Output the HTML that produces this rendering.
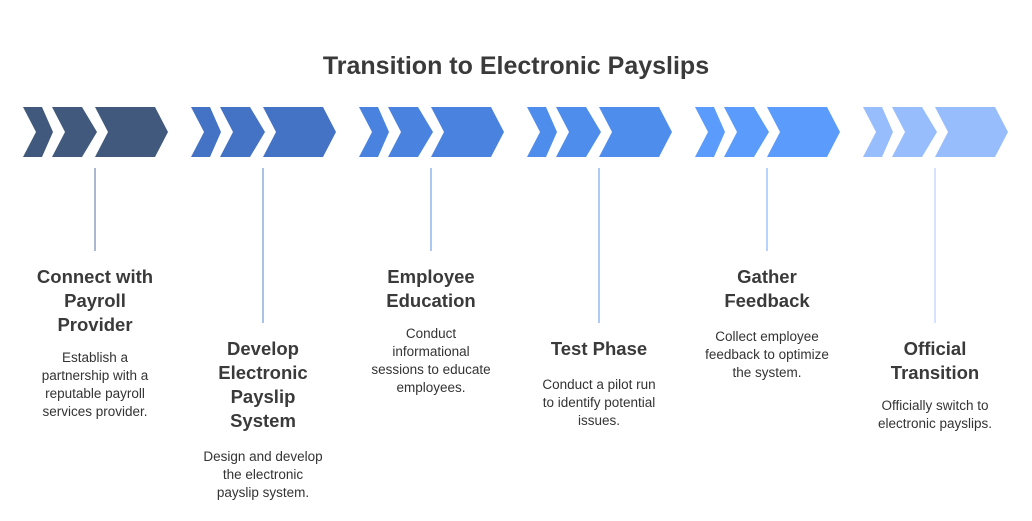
<!DOCTYPE html>
<html><head><meta charset="utf-8"><style>
body{margin:0;background:#fff;width:1032px;height:516px;overflow:hidden}
svg text{font-family:"Liberation Sans",Arial,sans-serif;fill:#3a3a3a}
.t{font-size:18.5px;font-weight:bold;text-anchor:middle}
.d{font-size:13.5px;text-anchor:middle;fill:#333}
</style></head><body>
<svg width="1032" height="516" viewBox="0 0 1032 516">
<text x="516" y="74" text-anchor="middle" style="font-size:25px;font-weight:bold">Transition to Electronic Payslips</text>
<defs>
<g id="ch">
<polygon points="0,0 19,0 30,25 19,50 0,50 13,25"/>
<polygon points="29,0 59,0 74,25 59,50 29,50 42,25"/>
<polygon points="72,0 132,0 145,25 132,50 72,50 85,25"/>
</g>
</defs>
<use href="#ch" x="23" y="107" fill="#41597c"/>
<use href="#ch" x="191" y="107" fill="#4472c4"/>
<use href="#ch" x="359" y="107" fill="#4a82df"/>
<use href="#ch" x="527" y="107" fill="#4f8ded"/>
<use href="#ch" x="695" y="107" fill="#5b9bfb"/>
<use href="#ch" x="863" y="107" fill="#97bdfd"/>
<g stroke-width="1.5">
<line x1="95" y1="168" x2="95" y2="251" stroke="#8aa0bf"/>
<line x1="263" y1="168" x2="263" y2="323" stroke="#8fade0"/>
<line x1="431" y1="168" x2="431" y2="251" stroke="#90b4ee"/>
<line x1="599" y1="168" x2="599" y2="323" stroke="#93baf5"/>
<line x1="767" y1="168" x2="767" y2="251" stroke="#9dc2fc"/>
<line x1="935" y1="168" x2="935" y2="323" stroke="#c5dbfe"/>
</g>
<text class="t" x="95" y="283">Connect with</text>
<text class="t" x="95" y="307">Payroll</text>
<text class="t" x="95" y="331">Provider</text>
<text class="d" x="95" y="362">Establish a</text>
<text class="d" x="95" y="380">partnership with a</text>
<text class="d" x="95" y="398">reputable payroll</text>
<text class="d" x="95" y="416">services provider.</text>

<text class="t" x="263" y="355">Develop</text>
<text class="t" x="263" y="379">Electronic</text>
<text class="t" x="263" y="403">Payslip</text>
<text class="t" x="263" y="427">System</text>
<text class="d" x="263" y="461">Design and develop</text>
<text class="d" x="263" y="479">the electronic</text>
<text class="d" x="263" y="497">payslip system.</text>

<text class="t" x="431" y="283">Employee</text>
<text class="t" x="431" y="307">Education</text>
<text class="d" x="431" y="338">Conduct</text>
<text class="d" x="431" y="356">informational</text>
<text class="d" x="431" y="374">sessions to educate</text>
<text class="d" x="431" y="392">employees.</text>

<text class="t" x="599" y="355">Test Phase</text>
<text class="d" x="599" y="389">Conduct a pilot run</text>
<text class="d" x="599" y="407">to identify potential</text>
<text class="d" x="599" y="425">issues.</text>

<text class="t" x="767" y="283">Gather</text>
<text class="t" x="767" y="307">Feedback</text>
<text class="d" x="767" y="341">Collect employee</text>
<text class="d" x="767" y="359">feedback to optimize</text>
<text class="d" x="767" y="377">the system.</text>

<text class="t" x="935" y="355">Official</text>
<text class="t" x="935" y="379">Transition</text>
<text class="d" x="935" y="410">Officially switch to</text>
<text class="d" x="935" y="428">electronic payslips.</text>
</svg>
</body></html>
